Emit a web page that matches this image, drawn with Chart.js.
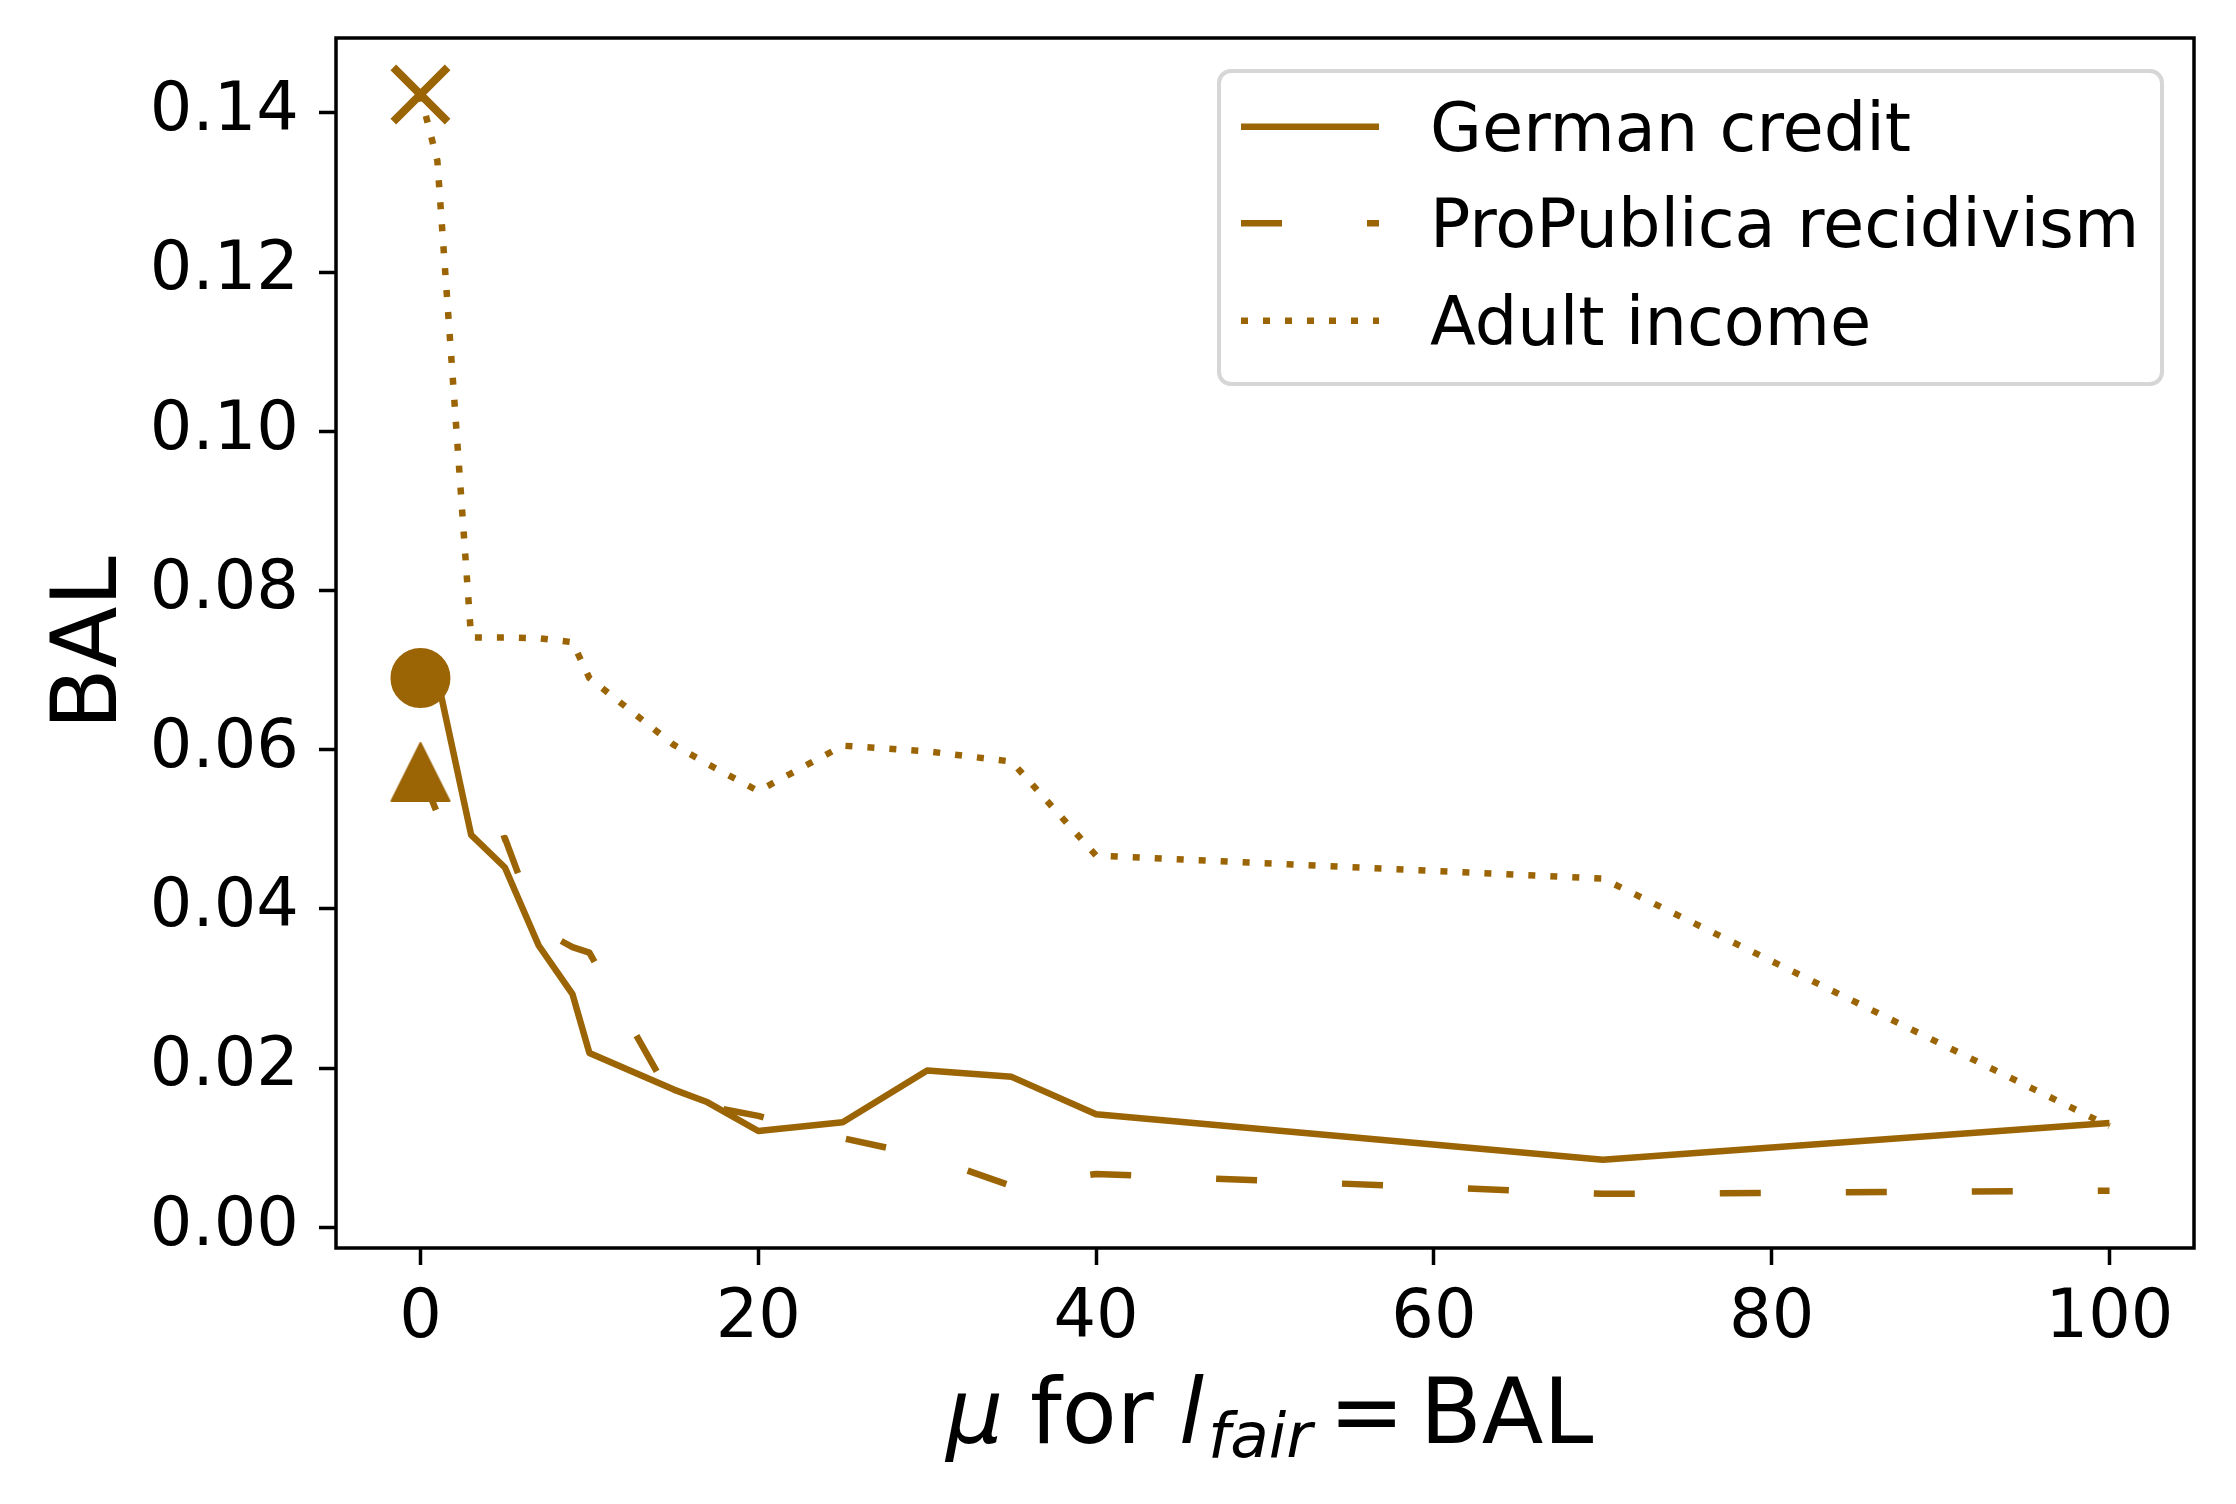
<!DOCTYPE html>
<html lang="en">
<head>
<meta charset="UTF-8">
<title>BAL against mu</title>
<script src="https://cdn.jsdelivr.net/npm/chart.js"></script>
<style>
    html, body {
        margin: 0;
        padding: 0;
        background: #fff;
    }
    #wrap {
        width: 2236px;
        height: 1504px;
        position: relative;
    }
</style>
</head>
<body>
<div id="wrap"><canvas id="balChart"></canvas></div>
<script>
    // mu values shared by the three runs
    var muValues = [0, 1, 3, 5, 7, 9, 10, 15, 17, 20, 25, 30, 35, 40, 70, 100];

    // BAL
    var germanCredit = [0.069, 0.069, 0.0493, 0.0452, 0.0354, 0.0293, 0.0219, 0.0173, 0.0157, 0.0121, 0.0132, 0.0197, 0.0189, 0.0142, 0.0085, 0.0131];
    var proPublica = [0.0572, 0.052, 0.0475, 0.0489, 0.0375, 0.0352, 0.0345, 0.0158, 0.0152, 0.0140, 0.0112, 0.0089, 0.0052, 0.0067, 0.0042, 0.0046];
    var adultIncome = [0.1423, 0.134, 0.0741, 0.0741, 0.0740, 0.0735, 0.069, 0.0606, 0.0582, 0.0548, 0.0605, 0.0598, 0.0585, 0.0467, 0.0438, 0.0127];

    var seriesNames = ['German credit', 'ProPublica recidivism', 'Adult income'];
    var xTicks = [0, 20, 40, 60, 80, 100];
    var yTicks = [0, 0.02, 0.04, 0.06, 0.08, 0.10, 0.12, 0.14];

    var brown = '#9b6405';
    var lineW = 6.5;
    var dashes = [[], [41, 85], [7, 15]];

    Chart.defaults.font.family = '"DejaVu Sans", sans-serif';
    Chart.defaults.color = '#000';

    function toPoints(values) {
        return muValues.map(function (m, i) { return { x: m, y: values[i] }; });
    }

    // marker only on the first point (mu = 0)
    function firstOnly(r) {
        return muValues.map(function (m, i) { return i === 0 ? r : 0; });
    }

    // matplotlib-like "^" marker
    var triangle = document.createElement('canvas');
    triangle.width = 64;
    triangle.height = 64;
    (function () {
        var c = triangle.getContext('2d');
        c.fillStyle = brown;
        c.strokeStyle = brown;
        c.lineWidth = 2;
        c.lineJoin = 'round';
        c.beginPath();
        c.moveTo(32, 3);
        c.lineTo(61, 61);
        c.lineTo(3, 61);
        c.closePath();
        c.fill();
        c.stroke();
    })();

    var framePlugin = {
        id: 'frame',
        afterDatasetsDraw: function (chart) {
            var ctx = chart.ctx, a = chart.chartArea;
            ctx.save();
            ctx.strokeStyle = '#000';
            ctx.lineWidth = 3.5;
            ctx.strokeRect(a.left, a.top, a.right - a.left, a.bottom - a.top);
            ctx.restore();
        }
    };

    var titlePlugin = {
        id: 'titles',
        afterDraw: function (chart) {
            var ctx = chart.ctx, a = chart.chartArea;
            var cx = (a.left + a.right) / 2;
            ctx.save();
            ctx.fillStyle = '#000';
            ctx.textBaseline = 'alphabetic';
            ctx.textAlign = 'left';

            // x title:  mu for l_fair = BAL
            var base = 1443;
            var parts = [
                { t: '\u03bc', font: 'italic 90px "DejaVu Sans"', dx: -319, dy: 0 },
                { t: 'for', font: '90px "DejaVu Sans"', dx: -235, dy: 0 },
                { t: 'l', font: 'italic 90px "DejaVu Sans"', dx: -86, dy: 0 },
                { t: 'fair', font: 'italic 63px "DejaVu Sans"', dx: -57, dy: 14 },
                { t: '=', font: '90px "DejaVu Sans"', dx: 64, dy: 0 },
                { t: 'BAL', font: '90px "DejaVu Sans"', dx: 155, dy: 0 }
            ];
            parts.forEach(function (p) {
                ctx.font = p.font;
                ctx.fillText(p.t, cx + p.dx, base + p.dy);
            });

            // y title
            ctx.font = '90px "DejaVu Sans"';
            ctx.textAlign = 'center';
            ctx.translate(116, (a.top + a.bottom) / 2);
            ctx.rotate(-Math.PI / 2);
            ctx.fillText('BAL', 0, 0);
            ctx.restore();

            // legend box
            ctx.save();
            var bx = 1219, by = 71, bw = 943, bh = 313, r = 12;
            ctx.beginPath();
            ctx.roundRect(bx, by, bw, bh, r);
            ctx.fillStyle = 'rgba(255,255,255,0.8)';
            ctx.fill();
            ctx.strokeStyle = '#d6d6d6';
            ctx.lineWidth = 4;
            ctx.stroke();

            var rows = [126.7, 223.3, 320.7];
            ctx.font = '67px "DejaVu Sans"';
            ctx.textAlign = 'left';
            ctx.textBaseline = 'alphabetic';
            chart.data.datasets.forEach(function (ds, i) {
                ctx.strokeStyle = brown;
                ctx.lineWidth = lineW;
                ctx.lineCap = 'butt';
                ctx.setLineDash(dashes[i]);
                ctx.beginPath();
                ctx.moveTo(1241, rows[i]);
                ctx.lineTo(1379, rows[i]);
                ctx.stroke();
                ctx.setLineDash([]);
                ctx.fillStyle = '#000';
                ctx.fillText(ds.label, 1430, rows[i] + 24);
            });
            ctx.restore();
        }
    };

    var ctx = document.getElementById('balChart').getContext('2d');
    var balChart = new Chart(ctx, {
        type: 'line',
        data: {
            datasets: [
                {
                    label: seriesNames[0],
                    data: toPoints(germanCredit),
                    borderColor: brown,
                    backgroundColor: brown,
                    borderWidth: lineW,
                    borderDash: dashes[0],
                    borderJoinStyle: 'round',
                    pointStyle: 'circle',
                    pointRadius: firstOnly(28.5),
                    pointBorderWidth: 3,
                    pointBackgroundColor: brown,
                    pointBorderColor: brown,
                    tension: 0
                },
                {
                    label: seriesNames[1],
                    data: toPoints(proPublica),
                    borderColor: brown,
                    backgroundColor: brown,
                    borderWidth: lineW,
                    borderDash: dashes[1],
                    borderJoinStyle: 'round',
                    pointStyle: triangle,
                    pointRadius: firstOnly(30),
                    tension: 0
                },
                {
                    label: seriesNames[2],
                    data: toPoints(adultIncome),
                    borderColor: brown,
                    backgroundColor: brown,
                    borderWidth: lineW,
                    borderDash: dashes[2],
                    borderJoinStyle: 'round',
                    pointStyle: 'crossRot',
                    pointRadius: firstOnly(38.4),
                    pointBorderWidth: 8,
                    pointBorderColor: brown,
                    tension: 0
                }
            ]
        },
        options: {
            responsive: true,
            maintainAspectRatio: false,
            devicePixelRatio: 1,
            animation: false,
            events: [],
            layout: {
                autoPadding: false,
                padding: { top: 38, right: 42, left: 0, bottom: 0 }
            },
            plugins: {
                legend: { display: false },
                tooltip: { enabled: false }
            },
            scales: {
                x: {
                    type: 'linear',
                    min: -5,
                    max: 105,
                    afterBuildTicks: function (scale) {
                        scale.ticks = xTicks.map(function (v) { return { value: v }; });
                    },
                    afterFit: function (scale) {
                        scale.height = 256;
                        scale.paddingLeft = 0;
                        scale.paddingRight = 0;
                    },
                    border: { display: false },
                    grid: {
                        drawOnChartArea: false,
                        drawTicks: true,
                        tickLength: 17,
                        tickWidth: 3.5,
                        tickColor: '#000'
                    },
                    ticks: {
                        font: { size: 67 },
                        color: '#000',
                        padding: 14,
                        maxRotation: 0,
                        autoSkip: false,
                        callback: function (v) { return String(v); }
                    }
                },
                y: {
                    type: 'linear',
                    min: -0.0026,
                    max: 0.1494,
                    afterBuildTicks: function (scale) {
                        scale.ticks = yTicks.map(function (v) { return { value: v }; });
                    },
                    afterFit: function (scale) {
                        scale.width = 336;
                        scale.paddingTop = 0;
                        scale.paddingBottom = 0;
                    },
                    border: { display: false },
                    grid: {
                        drawOnChartArea: false,
                        drawTicks: true,
                        tickLength: 17,
                        tickWidth: 3.5,
                        tickColor: '#000'
                    },
                    ticks: {
                        font: { size: 67 },
                        color: '#000',
                        padding: 20,
                        autoSkip: false,
                        callback: function (v) { return v.toFixed(2); }
                    }
                }
            }
        },
        plugins: [framePlugin, titlePlugin]
    });
</script>
</body>
</html>
